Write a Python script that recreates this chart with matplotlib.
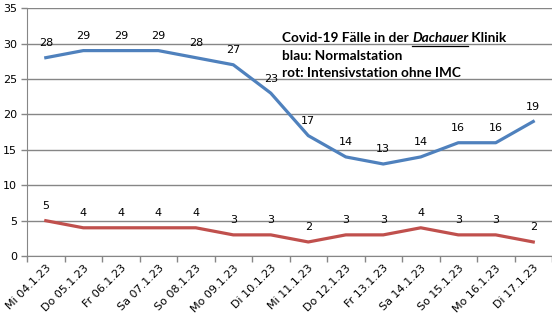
import matplotlib
matplotlib.use("Agg")
import matplotlib.pyplot as plt
from matplotlib.ticker import FixedLocator, NullFormatter

dates = ["Mi 04.1.23", "Do 05.1.23", "Fr 06.1.23", "Sa 07.1.23", "So 08.1.23",
         "Mo 09.1.23", "Di 10.1.23", "Mi 11.1.23", "Do 12.1.23", "Fr 13.1.23",
         "Sa 14.1.23", "So 15.1.23", "Mo 16.1.23", "Di 17.1.23"]
normalstation = [28, 29, 29, 29, 28, 27, 23, 17, 14, 13, 14, 16, 16, 19]
intensivstation = [5, 4, 4, 4, 4, 3, 3, 2, 3, 3, 4, 3, 3, 2]
y_ticks = [0, 5, 10, 15, 20, 25, 30, 35]

blue = "#4F81BD"
red = "#C0504D"
grid_c = "#868686"

fig = plt.figure(figsize=(5.52, 3.23), dpi=100)
ax = fig.add_axes([0.049, 0.207, 0.951, 0.768])

x = list(range(len(dates)))
ax.plot(x, normalstation, color=blue, lw=2.3, solid_joinstyle="round", zorder=3)
ax.plot(x, intensivstation, color=red, lw=2.3, solid_joinstyle="round", zorder=3)

for xi, v in zip(x, normalstation):
    ax.annotate(str(v), (xi, v), xytext=(0, 10.5), textcoords="offset points",
                ha="center", va="center", fontsize=8, color="black", zorder=4)
for xi, v in zip(x, intensivstation):
    ax.annotate(str(v), (xi, v), xytext=(0, 10.5), textcoords="offset points",
                ha="center", va="center", fontsize=8, color="black", zorder=4)

ax.set_xlim(-0.5, len(dates) - 0.5)
ax.set_ylim(0, 35)
ax.set_yticks(y_ticks)
ax.yaxis.grid(True, color=grid_c, lw=1)
ax.set_axisbelow(True)

# category labels at centers, tick marks between categories
ax.set_xticks(x)
ax.set_xticklabels(dates, rotation=45, ha="right", rotation_mode="anchor", fontsize=8)
ax.tick_params(axis="x", which="major", length=0, pad=5)
ax.xaxis.set_minor_locator(FixedLocator([i - 0.5 for i in range(len(dates) + 1)]))
ax.xaxis.set_minor_formatter(NullFormatter())
ax.tick_params(axis="x", which="minor", length=4, color=grid_c, width=1)
ax.tick_params(axis="y", length=4, color=grid_c, width=1, labelsize=8, pad=3)

for s in ["top", "right"]:
    ax.spines[s].set_visible(False)
ax.spines["left"].set_color(grid_c)
ax.spines["bottom"].set_color(grid_c)

tfont = dict(fontsize=9.8, fontweight="bold", family="Lato", color="black",
             transform=fig.transFigure, ha="left", va="center")
t1 = fig.text(282 / 552, 1 - 38 / 323, "Covid-19 Fälle in der ", **tfont)
fig.canvas.draw()
bb = t1.get_window_extent()
t2 = fig.text(bb.x1 / 552, 1 - 38 / 323, "Dachauer", style="italic", **tfont)
fig.canvas.draw()
bb2 = t2.get_window_extent()
fig.add_artist(plt.Line2D([bb2.x0 / 552, bb2.x1 / 552], [1 - 46 / 323, 1 - 46 / 323],
                          color="black", lw=0.9, transform=fig.transFigure))
fig.text(bb2.x1 / 552, 1 - 38 / 323, " Klinik", **tfont)
fig.text(282 / 552, 1 - 55.5 / 323, "blau: Normalstation", **tfont)
fig.text(282 / 552, 1 - 73 / 323, "rot: Intensivstation ohne IMC", **tfont)

fig.savefig("out.png", dpi=100)
